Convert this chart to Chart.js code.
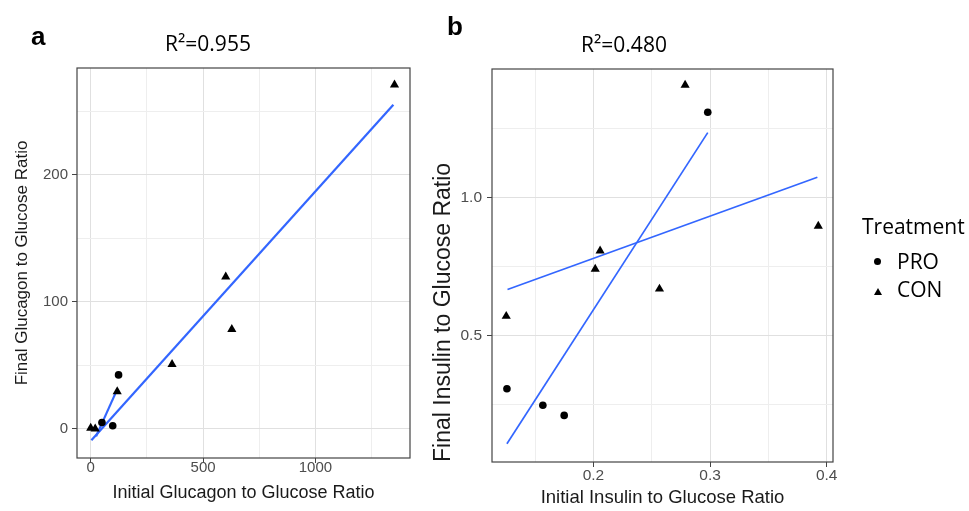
<!DOCTYPE html>
<html>
<head>
<meta charset="utf-8">
<script src="https://cdn.jsdelivr.net/npm/chart.js@4"></script>
<style>
	body { margin: 0; background: #fff; }
	#wrap { position: relative; width: 969px; height: 511px; overflow: hidden; }
	.box { position: absolute; top: 0; height: 511px; }
	.panel { position: absolute; font: bold 26px "Liberation Sans", Arial, sans-serif; line-height: 1; color: #000; }
	.title { position: absolute; width: 140px; text-align: center; font: 21px "Open Sans", sans-serif; line-height: 1; color: #000; }
	.legend { position: absolute; font: 21px "Open Sans", sans-serif; line-height: 1; color: #000; white-space: nowrap; }
	.dot { position: absolute; width: 7px; height: 7px; border-radius: 50%; background: #000; }
	.tri { position: absolute; width: 0; height: 0; border-left: 4px solid transparent; border-right: 4px solid transparent; border-bottom: 7px solid #000; }
</style>
</head>
<body>
<div id="wrap">
	<div class="box" style="left:0;width:420px"><canvas id="glucagon"></canvas></div>
	<div class="box" style="left:420px;width:549px"><canvas id="insulin"></canvas></div>
	<div class="panel" style="left:31px;top:23px">a</div>
	<div class="panel" style="left:447px;top:13px">b</div>
	<div class="title" style="left:138px;top:33px">R²=0.955</div>
	<div class="title" style="left:554px;top:34px">R²=0.480</div>
	<div id="legend"></div>
</div>
<script>
// panel a - glucagon
const glucagonProX = [50, 98, 124];
const glucagonProY = [5, 2.4, 42.4];
const glucagonConX = [0, 20, 118, 362, 601, 628, 1352];
const glucagonConY = [0.5, 0, 29.3, 50.8, 119.6, 78.3, 270.8];
const glucagonProFitX = [24, 117];
const glucagonProFitY = [-6, 30.6];
const glucagonConFitX = [3, 1347];
const glucagonConFitY = [-9, 255];
const glucagonXGrid = [0, 250, 500, 750, 1000, 1250];
const glucagonXLabels = [0, 500, 1000];
const glucagonYGrid = [0, 50, 100, 150, 200, 250];
const glucagonYLabels = [0, 100, 200];

// panel b - insulin
const insulinProX = [0.1258, 0.1566, 0.1749, 0.298];
const insulinProY = [0.306, 0.246, 0.209, 1.309];
const insulinConX = [0.1252, 0.2015, 0.2057, 0.2566, 0.2786, 0.3928];
const insulinConY = [0.569, 0.74, 0.806, 0.668, 1.408, 0.896];
const insulinProFitX = [0.1258, 0.298];
const insulinProFitY = [0.106, 1.235];
const insulinConFitX = [0.1263, 0.392];
const insulinConFitY = [0.666, 1.073];
const insulinXGrid = [0.15, 0.2, 0.25, 0.3, 0.35, 0.4];
const insulinXLabels = [0.2, 0.3, 0.4];
const insulinYGrid = [0.25, 0.5, 0.75, 1.0, 1.25];
const insulinYLabels = [0.5, 1.0];

const treatments = ['PRO', 'CON'];
const legendTitle = 'Treatment';

function pts(xs, ys) {
	return xs.map((x, i) => ({ x: x, y: ys[i] }));
}

function isMajor(labels, v) {
	return labels.some((l) => Math.abs(l - v) < 1e-9);
}

// full border round the panel like theme_bw
const panelBorder = {
	id: 'panelBorder',
	afterDraw(chart) {
		const a = chart.chartArea;
		const ctx = chart.ctx;
		ctx.save();
		ctx.strokeStyle = '#444';
		ctx.lineWidth = 1.2;
		ctx.strokeRect(a.left, a.top, a.right - a.left, a.bottom - a.top);
		ctx.restore();
	}
};

function axis(opts) {
	return {
		type: 'linear',
		min: opts.min,
		max: opts.max,
		afterBuildTicks: (scale) => {
			scale.ticks = opts.grid.map((v) => ({ value: v }));
		},
		afterFit: (scale) => {
			if (opts.width) scale.width = opts.width;
			if (opts.height) scale.height = opts.height;
		},
		border: { display: false },
		grid: {
			color: (ctx) => (isMajor(opts.labels, ctx.tick.value) ? '#e0e0e0' : '#eeeeee'),
			lineWidth: 1,
			tickLength: 5,
			tickColor: (ctx) => (isMajor(opts.labels, ctx.tick.value) ? '#444' : 'rgba(0,0,0,0)')
		},
		ticks: {
			autoSkip: false,
			maxRotation: 0,
			padding: opts.tickPad,
			color: '#4d4d4d',
			font: { family: 'Liberation Sans', size: opts.tickSize || 15 },
			callback: (v) => (isMajor(opts.labels, v) ? opts.fmt(v) : '')
		},
		title: {
			display: true,
			text: opts.title,
			align: opts.titleAlign || 'center',
			color: '#1a1a1a',
			font: { family: 'Liberation Sans', size: opts.titleSize },
			padding: opts.titlePad
		}
	};
}

function datasets(proX, proY, conX, conY, proFitX, proFitY, conFitX, conFitY, fitWidth) {
	return [
		{
			label: treatments[0],
			data: pts(proX, proY),
			pointStyle: 'circle',
			pointRadius: 3.8,
			borderWidth: 0,
			backgroundColor: '#000',
			borderColor: '#000'
		},
		{
			label: treatments[1],
			data: pts(conX, conY),
			pointStyle: 'triangle',
			pointRadius: 5.3,
			borderWidth: 0,
			backgroundColor: '#000',
			borderColor: '#000'
		},
		{
			label: 'fit PRO',
			data: pts(proFitX, proFitY),
			showLine: true,
			pointRadius: 0,
			borderColor: '#3366ff',
			borderWidth: fitWidth
		},
		{
			label: 'fit CON',
			data: pts(conFitX, conFitY),
			showLine: true,
			pointRadius: 0,
			borderColor: '#3366ff',
			borderWidth: fitWidth
		}
	];
}

new Chart(document.getElementById('glucagon'), {
	type: 'scatter',
	data: {
		datasets: datasets(glucagonProX, glucagonProY, glucagonConX, glucagonConY,
			glucagonProFitX, glucagonProFitY, glucagonConFitX, glucagonConFitY, 2.2)
	},
	options: {
		responsive: true,
		maintainAspectRatio: false,
		animation: false,
		events: [],
		layout: { padding: { top: 68, right: 10, left: 0, bottom: 0 } },
		plugins: {
			legend: { display: false },
			tooltip: { enabled: false }
		},
		scales: {
			x: axis({
				min: -61, max: 1421, grid: glucagonXGrid, labels: glucagonXLabels,
				height: 53, tickPad: -4, fmt: (v) => String(v),
				title: 'Initial Glucagon to Glucose Ratio', titleSize: 18,
				titlePad: { top: 0, bottom: 7 }
			}),
			y: axis({
				min: -23, max: 284, grid: glucagonYGrid, labels: glucagonYLabels,
				width: 77, tickPad: 4, fmt: (v) => String(v),
				title: 'Final Glucagon to Glucose Ratio', titleSize: 17,
				titlePad: { top: 12, bottom: 0 }
			})
		}
	},
	plugins: [panelBorder]
});

const insulinChart = new Chart(document.getElementById('insulin'), {
	type: 'scatter',
	data: {
		datasets: datasets(insulinProX, insulinProY, insulinConX, insulinConY,
			insulinProFitX, insulinProFitY, insulinConFitX, insulinConFitY, 1.7)
	},
	options: {
		responsive: true,
		maintainAspectRatio: false,
		animation: false,
		events: [],
		layout: { padding: { top: 69, right: 136, left: 0, bottom: 0 } },
		plugins: {
			legend: { display: false },
			tooltip: { enabled: false }
		},
		scales: {
			x: axis({
				min: 0.113, max: 0.4054, grid: insulinXGrid, labels: insulinXLabels,
				height: 49, tickPad: -1, tickSize: 15.5, fmt: (v) => v.toFixed(1),
				title: 'Initial Insulin to Glucose Ratio', titleSize: 18.5,
				titlePad: { top: 0, bottom: 2 }
			}),
			y: axis({
				min: 0.04, max: 1.466, grid: insulinYGrid, labels: insulinYLabels,
				width: 72, tickPad: 5, tickSize: 15.5, fmt: (v) => v.toFixed(1),
				title: 'Final Insulin to Glucose Ratio', titleSize: 23, titleAlign: 'start',
				titlePad: { top: 10, bottom: 0 }
			})
		}
	},
	plugins: [panelBorder]
});

// legend for the treatment groups, built from the chart's point datasets
const legend = document.getElementById('legend');
let html = '<div class="legend" style="left:862px;top:216px">' + legendTitle + '</div>';
insulinChart.data.datasets.slice(0, 2).forEach((ds, i) => {
	const top = i === 0 ? 251 : 279;
	const marker = ds.pointStyle === 'circle'
		? '<div class="dot" style="left:874px;top:' + (top + 7) + 'px"></div>'
		: '<div class="tri" style="left:874px;top:' + (top + 9) + 'px"></div>';
	html += marker + '<div class="legend" style="left:897px;top:' + top + 'px">' + ds.label + '</div>';
});
legend.innerHTML = html;
</script>
</body>
</html>
